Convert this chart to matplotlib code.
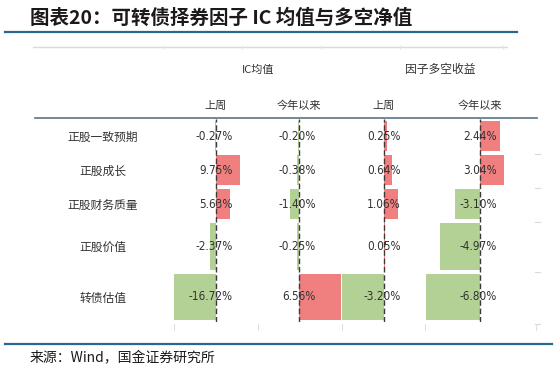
import matplotlib
matplotlib.use("Agg")
import matplotlib.pyplot as plt
from matplotlib.lines import Line2D
from matplotlib import font_manager

# ---------------- data ----------------
categories = ["正股一致预期", "正股成长", "正股财务质量", "正股价值", "转债估值"]
ic_last_week = [-0.27, 9.75, 5.63, -2.37, -16.72]
ic_ytd = [-0.20, -0.38, -1.40, -0.25, 6.56]
ls_last_week = [0.25, 0.64, 1.06, 0.05, -3.20]
ls_ytd = [2.44, 3.04, -3.10, -4.97, -6.80]
group_headers = ["IC均值", "因子多空收益"]
sub_headers = ["上周", "今年以来", "上周", "今年以来"]
title_text = "图表20：可转债择券因子 IC 均值与多空净值"
source_text = "来源：Wind，国金证券研究所"

# ---------------- style ----------------
RED = "#F08080"
GREEN = "#B3D195"
LINE_BLUE = "#2B6690"
HEAD_LINE = "#5B7386"
TXT = "#333333"

names = {f.name for f in font_manager.fontManager.ttflist}
num_font = "Liberation Sans Narrow" if "Liberation Sans Narrow" in names else "DejaVu Sans"
CJK = ["Noto Sans CJK SC", "DejaVu Sans"]
plt.rcParams["font.family"] = CJK

W, H = 557, 373
fig = plt.figure(figsize=(W / 100, H / 100), dpi=100)


def fx(px):
    return px / W


def fy(py):
    return 1 - py / H


# layout (pixels)
TOP, BOT = 119, 322
row_edges = [0, 34, 68, 102, 153, 203]
centers = [(row_edges[i] + row_edges[i + 1]) / 2 for i in range(len(categories))]
heights = [(row_edges[i + 1] - row_edges[i]) * 0.91 for i in range(len(categories))]

columns = [
    # values, zero px, px per unit, axes left px, axes right px
    (ic_last_week, 216, 2.5, 166, 258),
    (ic_ytd, 299, 6.4, 258, 342),
    (ls_last_week, 384, 13.1, 341, 425),
    (ls_ytd, 480, 8.0, 424, 537),
]

for (vals, zero, s, left, right), sh in zip(columns, sub_headers):
    ax = fig.add_axes([fx(left), fy(BOT), fx(right - left), (BOT - TOP) / H])
    ax.set_xlim((left - zero) / s, (right - zero) / s)
    ax.set_ylim(row_edges[-1], 0)
    ax.axis("off")
    ax.patch.set_alpha(0)
    colors = [RED if v >= 0 else GREEN for v in vals]
    ax.barh(centers, vals, height=heights, color=colors, edgecolor="none", zorder=1)
    ax.axvline(0, color="#3a3a3a", lw=1.0, ls=(0, (4, 2)), zorder=3)
    for c, v in zip(centers, vals):
        ax.annotate(f"{v:.2f}%", xy=(0, c), xytext=(17 * 0.72, 0),
                    textcoords="offset points", ha="right", va="center",
                    fontsize=8.5, color=TXT, family=[num_font, "DejaVu Sans"],
                    fontstretch="condensed", zorder=4)
    fig.text(fx(zero), fy(106), sh, ha="center", va="center", fontsize=8, color=TXT)

# row labels
for c, cat in zip(centers, categories):
    fig.text(fx(103), fy(TOP + c + 1), cat, ha="center", va="center", fontsize=8.5, color=TXT)

# group headers
fig.text(fx(258), fy(70), group_headers[0], ha="center", va="center", fontsize=8, color=TXT)
fig.text(fx(440), fy(70), group_headers[1], ha="center", va="center", fontsize=8.5, color=TXT)

# title and source
fig.text(fx(30), fy(18), title_text, ha="left", va="center", fontsize=14,
         fontweight="bold", color="#1a1a1a")
fig.text(fx(30), fy(358), source_text, ha="left", va="center", fontsize=10, color="#1a1a1a")

# decorative lines
def hline(y, x0, x1, color, lw):
    fig.add_artist(Line2D([fx(x0), fx(x1)], [fy(y), fy(y)], color=color, lw=lw,
                          transform=fig.transFigure))


def vline(x, y0, y1, color, lw):
    fig.add_artist(Line2D([fx(x), fx(x)], [fy(y0), fy(y1)], color=color, lw=lw,
                          transform=fig.transFigure))


hline(32, 5, 517, LINE_BLUE, 1.6)
hline(344, 5, 552, LINE_BLUE, 1.6)
hline(47, 33, 507, "#D9D9D9", 1.0)
for x in [163, 242, 321, 400, 503]:
    vline(x, 45, 49, "#E6E6E6", 0.6)
hline(118, 35, 537, HEAD_LINE, 1.2)
for y in [154, 188, 222, 272, 324]:
    hline(y, 535, 540, "#D9D9D9", 0.8)
for x in [174, 258, 342, 425, 536]:
    vline(x, 324, 330, "#E0E0E0", 0.8)

fig.savefig("out.png", dpi=100)
